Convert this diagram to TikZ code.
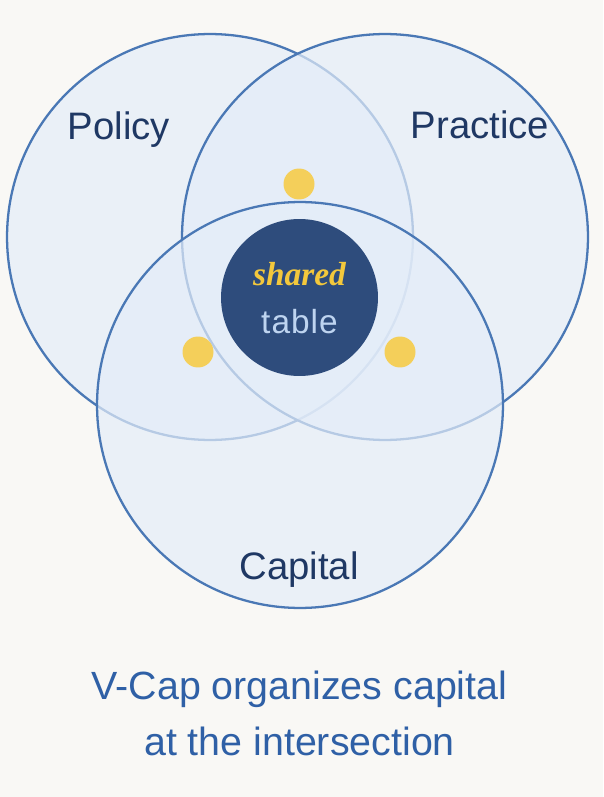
\documentclass[tikz,border=0pt]{standalone}
\usepackage{fontspec}
\setmainfont{Liberation Sans}
\newfontfamily\accentserif{Liberation Serif}
\definecolor{PageBg}{RGB}{249, 248, 245}
\definecolor{RingLine}{RGB}{74, 120, 181}
\definecolor{RingFill}{RGB}{228, 237, 249}
\definecolor{Navy}{RGB}{31, 56, 100}
\definecolor{TableBlue}{RGB}{46, 76, 124}
\definecolor{Gold}{RGB}{243, 200, 60}
\definecolor{DotGold}{RGB}{244, 207, 90}
\definecolor{PaleBlue}{RGB}{190, 212, 240}
\definecolor{CaptionBlue}{RGB}{47, 96, 166}
\usetikzlibrary{positioning}

\begin{document}
\begin{tikzpicture}[
    x=0.02cm, y=-0.02cm,
    ring/.style={circle, draw=RingLine, line width=1.3pt, fill=RingFill,
                 fill opacity=0.7, minimum size=8.12cm, inner sep=0pt},
    dot/.style={circle, fill=DotGold, minimum size=0.62cm, inner sep=0pt},
    label/.style={anchor=base, text=Navy, font=\fontsize{21.8}{26}\selectfont},
    caption/.style={anchor=base, text=CaptionBlue, font=\fontsize{22.4}{27}\selectfont}
]
\fill[PageBg] (0,0) rectangle (603,797);
\useasboundingbox (0,0) rectangle (603,797);
% the three sets
\node[ring] (policy) at (210,237) {};
\node[ring] (practice) at (385,237) {};
\node[ring] (capital) at (300,405) {};
% the table in the middle
\node[circle, fill=TableBlue, minimum size=3.14cm, inner sep=0pt] (table) at (299.5,297.5) {};
\node[anchor=base, text=Gold, font=\accentserif\bfseries\itshape\fontsize{19}{23}\selectfont] (shared) at (299.5,285) {shared};
\node[anchor=base, text=PaleBlue, font=\fontsize{19}{23}\selectfont] (tabletext) at (299.5,333) {t\kern0.6pt a\kern0.6pt b\kern0.6pt l\kern0.6pt e};
% dots on the pairwise overlaps
\node[dot] (dotA) at (299,184) {};
\node[dot] (dotB) at (198,352) {};
\node[dot] (dotC) at (400,352) {};
% set names
\node[label] (policylabel) at (119,140) {Policy};
\node[label] (practicelabel) at (480,139) {Practice};
\node[label] (capitallabel) at (299,579) {Capital};
% caption
\node[caption] (caption1) at (299.5,699) {V-Cap organizes capital};
\node[caption] (caption2) at (299.5,755) {at the intersection};
\end{tikzpicture}
\end{document}
